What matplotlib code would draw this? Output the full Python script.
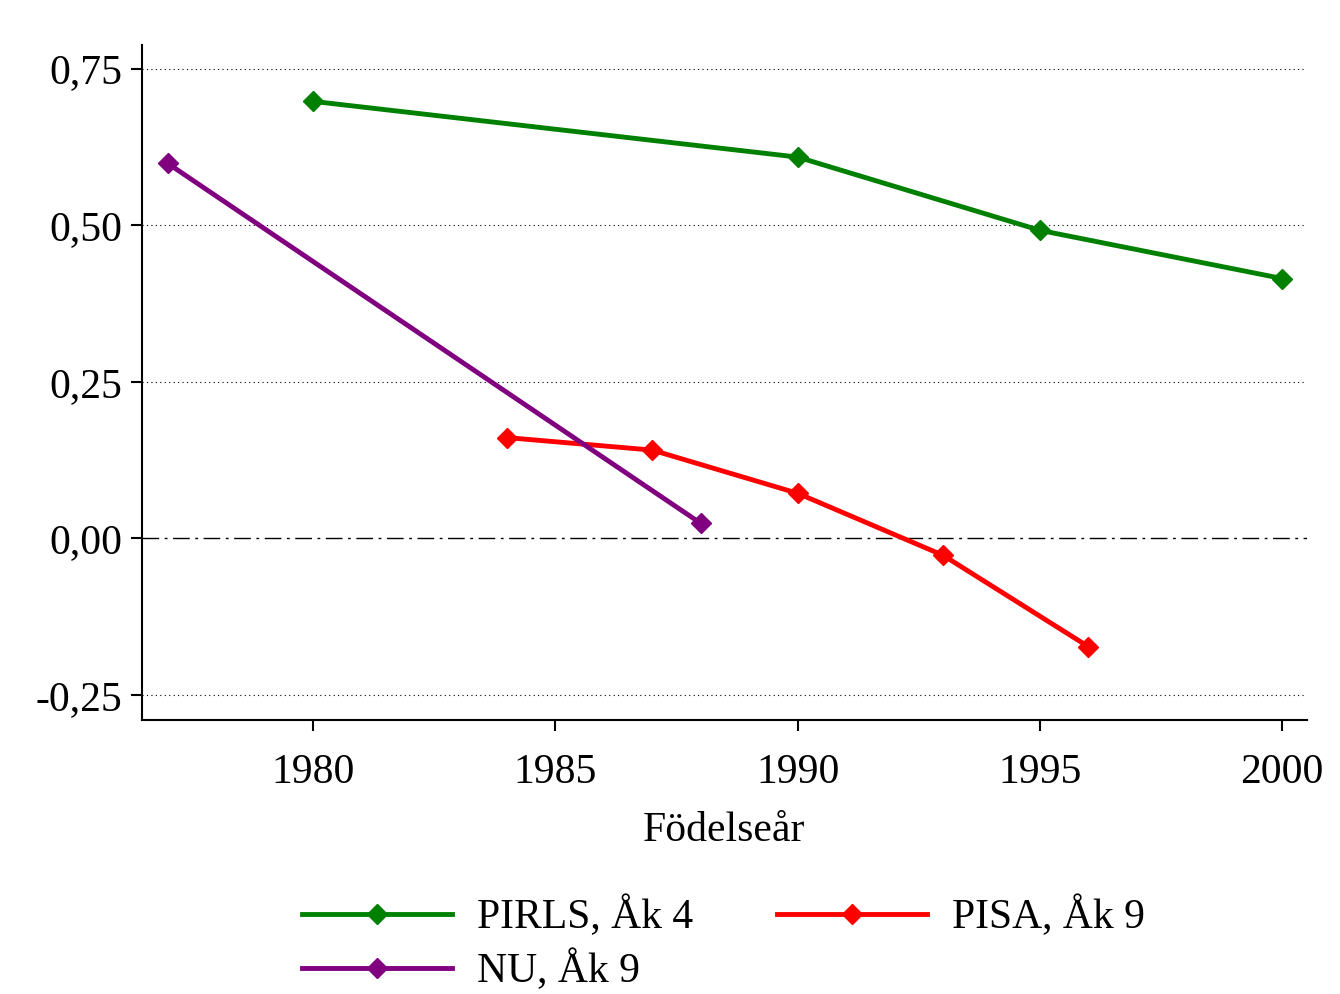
import numpy as np
from matplotlib import pyplot as plt
from matplotlib.ticker import FuncFormatter

plt.rcParams['font.family'] = ['Liberation Serif', 'DejaVu Serif']

# data
pirls_x = [1980, 1990, 1995, 2000]
pirls_y = [0.698, 0.609, 0.492, 0.415]
pisa_x = [1984, 1987, 1990, 1993, 1996]
pisa_y = [0.161, 0.141, 0.072, -0.027, -0.173]
nu_x = [1977, 1988]
nu_y = [0.599, 0.024]

fig = plt.figure(figsize=(13.4, 9.94), dpi=100)
ax = fig.add_axes([0.106, 0.2757, 0.869, 0.679])

l1, = ax.plot(pirls_x, pirls_y, color='green', lw=3.5, marker='D', ms=10, label='PIRLS, Åk 4')
l2, = ax.plot(pisa_x, pisa_y, color='red', lw=3.5, marker='D', ms=10, label='PISA, Åk 9')
l3, = ax.plot(nu_x, nu_y, color='purple', lw=3.5, marker='D', ms=10, label='NU, Åk 9')

ax.axhline(0, color='black', lw=1, ls=(0, (12, 4, 2, 4)), zorder=0)
for v in [-0.25, 0.25, 0.5, 0.75]:
    ax.axhline(v, color='black', lw=0.8, ls=(0, (1, 3)), zorder=0)

ax.set_xlim(1976.47, 2000.5)
ax.set_ylim(-0.29, 0.788)
ax.set_xticks([1980, 1985, 1990, 1995, 2000])
ax.set_yticks([-0.25, 0, 0.25, 0.5, 0.75])
ax.yaxis.set_major_formatter(FuncFormatter(lambda v, p: f'{v:.2f}'.replace('.', ',')))
ax.tick_params(labelsize=30, length=8, width=1.5)
ax.tick_params(axis='x', pad=16)
ax.tick_params(axis='y', pad=6)
for s in ['top', 'right']:
    ax.spines[s].set_visible(False)
for s in ['left', 'bottom']:
    ax.spines[s].set_linewidth(1.5)
ax.set_xlabel('Födelseår', fontsize=30, labelpad=14)

# row-major order: PIRLS, PISA / NU
fig.legend([l1, l3, l2], [l1.get_label(), l3.get_label(), l2.get_label()],
           loc='lower center', bbox_to_anchor=(0.54, -0.035), ncol=2, frameon=False,
           fontsize=30, handlelength=3.6, handletextpad=0.6, columnspacing=2.0,
           labelspacing=0.3)

fig.savefig('out.png', dpi=100)
